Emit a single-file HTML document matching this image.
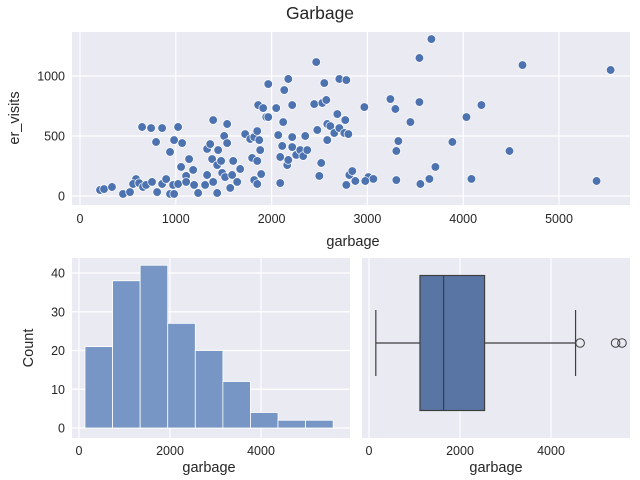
<!DOCTYPE html>
<html><head><meta charset="utf-8"><style>
body{margin:0;background:#fff;}
svg{display:block;font-family:"Liberation Sans","DejaVu Sans",sans-serif;}
.tick{font-size:12.5px;fill:#262626;}
.lab{font-size:14.5px;fill:#262626;}
</style></head><body>
<svg id="fig" width="640" height="480" viewBox="0 0 640 480" xmlns="http://www.w3.org/2000/svg">
<text x="320" y="19" text-anchor="middle" font-size="17.5" fill="#262626">Garbage</text>
<rect x="72" y="32" width="558" height="173" fill="#eaeaf2"/>
<rect x="72" y="258" width="278" height="180" fill="#eaeaf2"/>
<rect x="362" y="258" width="268" height="180" fill="#eaeaf2"/>
<g id="sc"></g><g id="hi"></g><g id="bx"></g>
<text class="lab" x="353" y="246" text-anchor="middle">garbage</text>
<text class="lab" transform="translate(19,118) rotate(-90)" text-anchor="middle">er_visits</text>
<text class="lab" x="209" y="472" text-anchor="middle">garbage</text>
<text class="lab" transform="translate(33,348) rotate(-90)" text-anchor="middle">Count</text>
<text class="lab" x="496" y="472" text-anchor="middle">garbage</text>
</svg>
<script>
const garbageX=[209,251,334,449,522,585,554,617,658,690,752,805,857,899,940,982,972,1024,648,742,857,1024,794,940,982,1066,1055,1139,1108,1108,1181,1191,1233,
1306,1327,1390,1390,1432,1327,1359,1442,1379,1432,1473,1505,1536,1536,1484,1515,1568,1599,1588,1641,1672,1724,1777,1818,1850,1871,1881,1797,1850,1891,1818,1850,1860,1912,1944,1965,1965,2048,2090,2069,2090,2111,2121,2132,2174,2163,2174,2215,2215,2215,2257,2299,2330,2351,2372,2445,2466,2477,2498,2518,2529,2571,2550,2581,2613,2581,2654,2686,2707,2707,2780,2769,2759,2801,2811,2842,2780,2874,2968,3010,3062,2978,
3668,3543,4619,5539,3240,3292,3543,3449,4190,4034,3323,3302,3887,3710,4483,3302,3553,3647,4086,5392];
const erVisits=[50,58,75,17,33,141,100,108,75,92,117,33,100,141,17,17,92,100,575,566,566,575,450,367,466,441,242,308,167,117,217,92,25,
92,175,117,633,25,392,433,383,308,258,292,500,600,441,192,158,67,292,175,117,225,516,475,491,541,466,383,317,292,183,133,100,758,733,658,658,933,733,108,508,325,417,616,883,975,258,300,408,491,758,342,383,333,500,383,766,1116,550,167,275,775,800,941,600,583,466,525,683,566,975,966,633,525,516,175,208,92,125,741,158,142,125,
1308,1150,1091,1050,808,725,783,616,758,658,458,375,450,242,375,133,100,142,142,125];
const scXTicks=[0,1000,2000,3000,4000,5000];
const scYTicks=[0,500,1000];
const histCounts=[21,38,42,27,20,12,4,2,2];
const histStart=[132];
const histWidth=[606];
const histXTicks=[0,2000,4000];
const histYTicks=[0,10,20,30,40];
const boxStats=[150,1120,1640,2540,4540];
const boxOutliers=[4640,5420,5560];
const boxXTicks=[0,2000,4000];

const NS="http://www.w3.org/2000/svg";
function mk(p,t,a){const e=document.createElementNS(NS,t);for(const k in a)e.setAttribute(k,a[k]);p.appendChild(e);return e;}
const sx=v=>80+v*0.0958, sy=v=>196-v*0.12;
const hx=v=>79+v*0.0455, hy=v=>428-v*3.875;
const bxs=v=>369+v*0.0455;
const sc=document.getElementById('sc'),hi=document.getElementById('hi'),bx=document.getElementById('bx');
scXTicks.forEach(t=>{
 const l=mk(sc,'line',{x1:sx(t),x2:sx(t),y1:32,y2:205,stroke:'#fff','stroke-width':1.2});
 
 
 const tx=mk(sc,'text',{x:sx(t),y:223,'text-anchor':'middle',class:'tick'});tx.textContent=t;
 
 
});
scYTicks.forEach(t=>{
 const l=mk(sc,'line',{x1:72,x2:630,y1:sy(t),y2:sy(t),stroke:'#fff','stroke-width':1.2});
 
 
 const tx=mk(sc,'text',{x:65,y:sy(t)+4.5,'text-anchor':'end',class:'tick'});tx.textContent=t;
 
 
});
garbageX.forEach((v,i)=>{
 const c=mk(sc,'circle',{cx:sx(v),cy:sy(erVisits[i]),r:4.3,fill:'#4c72b0',stroke:'#fff','stroke-width':0.7});
 
 
});
histXTicks.forEach(t=>{
 const l=mk(hi,'line',{x1:hx(t),x2:hx(t),y1:258,y2:438,stroke:'#fff','stroke-width':1.2});
 
 
 const tx=mk(hi,'text',{x:hx(t),y:455,'text-anchor':'middle',class:'tick'});tx.textContent=t;
 
 
});
histYTicks.forEach(t=>{
 const l=mk(hi,'line',{x1:72,x2:350,y1:hy(t),y2:hy(t),stroke:'#fff','stroke-width':1.2});
 
 
 const tx=mk(hi,'text',{x:65,y:hy(t)+4.5,'text-anchor':'end',class:'tick'});tx.textContent=t;
 
 
});
histCounts.forEach((c,i)=>{
 const x0=hx(histStart[0]+i*histWidth[0]),x1=hx(histStart[0]+(i+1)*histWidth[0]);
 const r=mk(hi,'rect',{x:x0,y:hy(c),width:x1-x0,height:hy(0)-hy(c),fill:'#7896c5',stroke:'#fff','stroke-width':0.8});
 
 
});
boxXTicks.forEach(t=>{
 const l=mk(bx,'line',{x1:bxs(t),x2:bxs(t),y1:258,y2:438,stroke:'#fff','stroke-width':1.2});
 
 
 const tx=mk(bx,'text',{x:bxs(t),y:455,'text-anchor':'middle',class:'tick'});tx.textContent=t;
 
 
});
const cy=343,h=135,lc='#3f3f3f';
let e;
e=mk(bx,'line',{x1:bxs(boxStats[0]),x2:bxs(boxStats[1]),y1:cy,y2:cy,stroke:lc,'stroke-width':1.2});


e=mk(bx,'line',{x1:bxs(boxStats[3]),x2:bxs(boxStats[4]),y1:cy,y2:cy,stroke:lc,'stroke-width':1.2});


[0,4].forEach(k=>{
 const c=mk(bx,'line',{x1:bxs(boxStats[k]),x2:bxs(boxStats[k]),y1:cy-33,y2:cy+33,stroke:lc,'stroke-width':1.2});
 
 
});
e=mk(bx,'rect',{x:bxs(boxStats[1]),y:cy-h/2,width:bxs(boxStats[3])-bxs(boxStats[1]),height:h,fill:'#5975a4',stroke:lc,'stroke-width':1.2});


e=mk(bx,'line',{x1:bxs(boxStats[2]),x2:bxs(boxStats[2]),y1:cy-h/2,y2:cy+h/2,stroke:lc,'stroke-width':1.2});


boxOutliers.forEach(v=>{
 const c=mk(bx,'circle',{cx:bxs(v),cy:cy,r:4.3,fill:'none',stroke:lc,'stroke-width':1});
 
 
});
</script>
</body></html>
